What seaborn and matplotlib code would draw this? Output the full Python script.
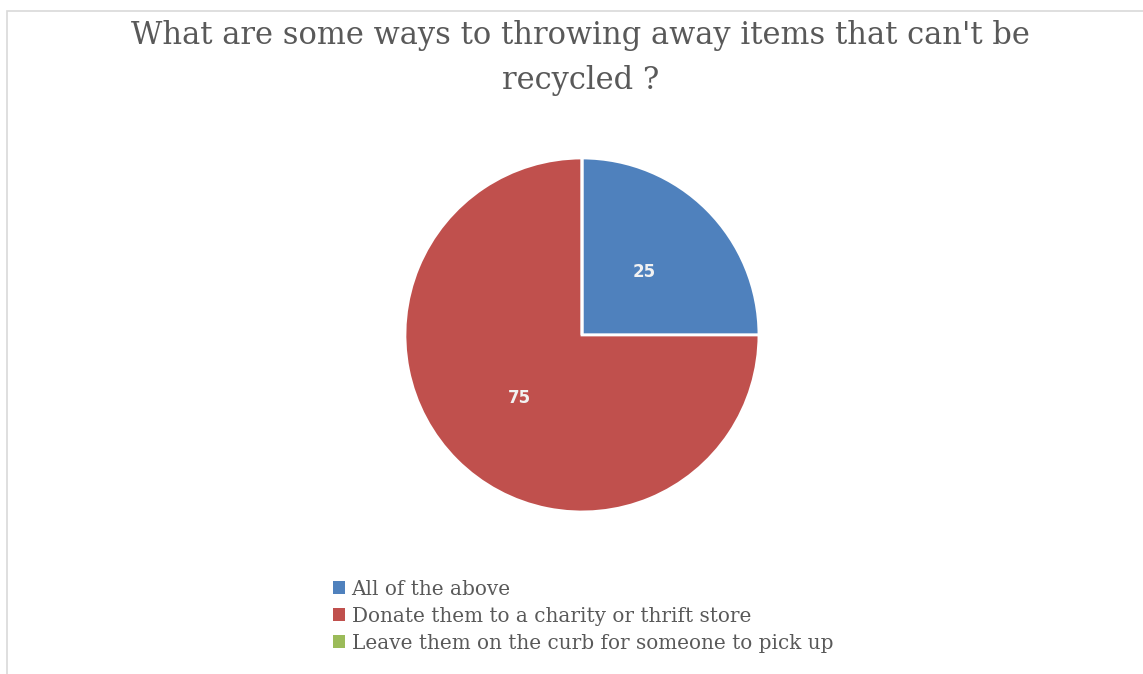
import numpy as np
import matplotlib
matplotlib.use('Agg')
import matplotlib.pyplot as plt
from matplotlib.patches import Patch, Rectangle
import seaborn as sns

# Chart data
title = "What are some ways to throwing away items that can't be\nrecycled ?"
categories = ['All of the above',
              'Donate them to a charity or thrift store',
              'Leave them on the curb for someone to pick up']
values = [25, 75, 0]
colors = ['#4F81BD', '#C0504D', '#9BBB59']

sns.set_theme(style='white')
plt.rcParams['font.family'] = ['DejaVu Serif']

fig = plt.figure(figsize=(11.43, 6.74), dpi=100)

# light border of the chart area (left and top edge visible)
fig.patches.append(Rectangle((7 / 1143, -0.01), 1.0, 1 - 11 / 674 + 0.01,
                             transform=fig.transFigure, facecolor='white',
                             edgecolor='#D9D9D9', linewidth=1.2, zorder=1))

fig.text(0.508, 0.914, title, ha='center', va='center', fontsize=22,
         color='#595959', linespacing=1.55, zorder=3)

ax = fig.add_axes([0.3543, 0.2404, 0.3097, 0.5252])
ax.set_zorder(3)
total = sum(values)
wedges, texts, autotexts = ax.pie(
    values, colors=colors, startangle=90, counterclock=False,
    autopct=lambda p: f'{round(p * total / 100)}' if p > 0 else '',
    pctdistance=0.5, wedgeprops=dict(edgecolor='white', linewidth=2))
for t in autotexts:
    t.set_color('#F2F2F2')
    t.set_fontsize(12)
    t.set_fontweight('bold')
    t.set_family('DejaVu Sans')
ax.set_xlim(-1, 1)
ax.set_ylim(-1, 1)
ax.set_aspect('equal')
ax.axis('off')

handles = [Patch(facecolor=c, edgecolor='none') for c in colors]
leg = fig.legend(handles, categories, loc='upper left',
                 bbox_to_anchor=(0.284, 0.152), frameon=False,
                 fontsize=14.4, handlelength=0.6, handleheight=0.6,
                 handletextpad=0.35, labelspacing=0.4, borderaxespad=0)
leg.set_zorder(3)
for t in leg.get_texts():
    t.set_color('#595959')

fig.savefig('out.png', dpi=100)
